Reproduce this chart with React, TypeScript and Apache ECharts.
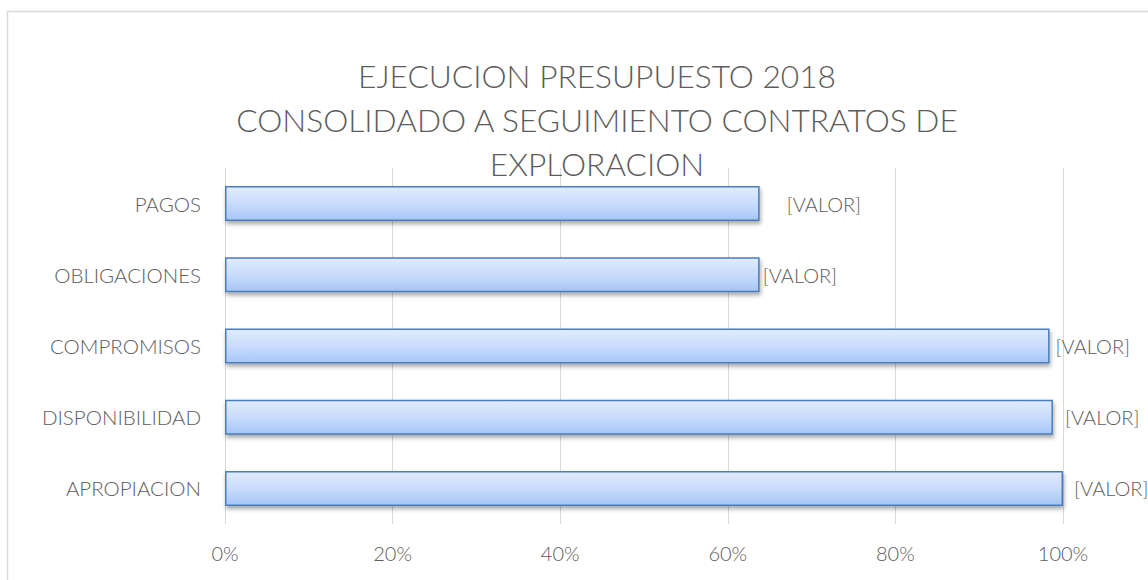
import React, { useEffect, useRef } from "react";
import * as echarts from "echarts";

const titleLines = [
  "EJECUCION PRESUPUESTO 2018",
  "CONSOLIDADO A SEGUIMIENTO CONTRATOS DE",
  "EXPLORACION",
];
const categories = ["PAGOS", "OBLIGACIONES", "COMPROMISOS", "DISPONIBILIDAD", "APROPIACION"];
const values = [0.638, 0.638, 0.984, 0.988, 1.0];
const labelText = "[VALOR]";
const labelGaps = [27, 3, 6, 12, 11];
const xTicks = [0, 0.2, 0.4, 0.6, 0.8, 1.0];

const FONT = "Lato, 'Open Sans', sans-serif";
const GRAY = "#5c5c5c";
const FW = 300;

export default function App() {
  const ref = useRef<HTMLDivElement>(null);
  useEffect(() => {
    if (!ref.current) return;
    const chart = echarts.init(ref.current, null, { renderer: "svg" });
    chart.setOption({
      animation: false,
      backgroundColor: "#ffffff",
      textStyle: { fontFamily: FONT },
      title: {
        text: titleLines.join("\n"),
        left: 592,
        textAlign: "center",
        top: 49,
        textStyle: {
          fontFamily: FONT,
          fontSize: 31.7,
          fontWeight: FW,
          color: GRAY,
          lineHeight: 44,
        },
      },
      graphic: [
        {
          type: "rect",
          shape: { x: 7.5, y: 11.5, width: 1300, height: 800 },
          style: { fill: "none", stroke: "#d9d9d9", lineWidth: 1.5 },
          silent: true,
          z: -10,
        },
      ],
      grid: { left: 225, right: 85, top: 168, bottom: 56, containLabel: false },
      xAxis: {
        type: "value",
        min: 0,
        max: 1,
        interval: 0.2,
        axisLine: { show: false },
        axisTick: { show: false },
        splitLine: { show: true, lineStyle: { color: "#d9d9d9", width: 1 } },
        axisLabel: {
          color: GRAY,
          fontSize: 20,
          fontWeight: FW,
          fontFamily: FONT,
          margin: 19,
          formatter: (v: number) => {
            const t = xTicks.find((x) => Math.abs(x - v) < 1e-9);
            return t === undefined ? "" : Math.round(t * 100) + "%";
          },
        },
      },
      yAxis: {
        type: "category",
        data: categories,
        inverse: true,
        axisLine: { show: false },
        axisTick: { show: false },
        splitLine: { show: false },
        axisLabel: { color: GRAY, fontSize: 20.5, fontWeight: FW, fontFamily: FONT, margin: 24 },
      },
      series: [
        {
          type: "bar",
          barWidth: 35,
          data: values.map((v, i) => ({
            value: v,
            label: { distance: labelGaps[i] },
          })),
          itemStyle: {
            color: new echarts.graphic.LinearGradient(0, 0, 0, 1, [
              { offset: 0, color: "#e1ebfd" },
              { offset: 0.5, color: "#c9dcfb" },
              { offset: 1, color: "#a6c6f7" },
            ]),
            borderColor: "#4a7ebb",
            borderWidth: 1.5,
            shadowColor: "rgba(0,0,0,0.35)",
            shadowBlur: 4,
            shadowOffsetX: 1,
            shadowOffsetY: 3,
          },
          label: {
            show: true,
            position: "right",
            formatter: () => labelText,
            color: GRAY,
            fontSize: 20,
            fontWeight: FW,
            fontFamily: FONT,
          },
        },
      ],
    });
    return () => chart.dispose();
  }, []);
  return (
    <div
      ref={ref}
      style={{ position: "fixed", left: 0, top: 0, width: 1148, height: 580 }}
    />
  );
}
